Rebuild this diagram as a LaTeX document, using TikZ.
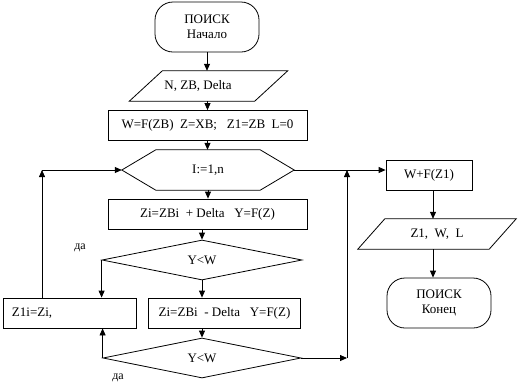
\documentclass[tikz,border=0pt]{standalone}
\usepackage{fontspec}
\setmainfont{Liberation Serif}
\usetikzlibrary{arrows.meta,shapes.geometric,calc}
\begin{document}
\begin{tikzpicture}[x=1pt,y=-1pt,
  every node/.style={font=\fontsize{13}{15}\selectfont},
  outl/.style={line width=0.8pt},
  arr/.style={line width=0.8pt,-{Triangle[length=7pt,width=6pt]}},
  proc/.style={draw,line width=0.8pt,rectangle,inner sep=0pt,minimum height=30pt},
  term/.style={draw,line width=0.8pt,rectangle,rounded corners=18pt,inner sep=0pt,minimum width=104pt,minimum height=50pt,align=center},
  io/.style={rectangle,inner sep=0pt,minimum height=30pt},
  cond/.style={draw,line width=0.8pt,diamond,aspect=5,inner sep=0pt,minimum width=200pt,minimum height=40pt},
  hexa/.style={rectangle,inner sep=0pt,minimum width=172pt,minimum height=40pt},
  lab/.style={font=\fontsize{12}{14}\selectfont}
]
\useasboundingbox (0,0) rectangle (521,389);

\node[term] (start) at (207,27) {ПОИСК\\Начало};
\node[io,minimum width=125pt] (in) at (198,86) {N, ZB, Delta};
\draw[outl] ($(in.north west)+(27,0)$) -- ($(in.north east)+(27,0)$) -- ($(in.south east)+(-6,0)$) -- ($(in.south west)+(-6,0)$) -- cycle;
\node[proc,minimum width=199pt] (init) at (207.5,125.5) {W=F(ZB)\ \ Z=XB;\ \ \ Z1=ZB\ \ L=0};
\node[hexa] (loop) at (208,170) {I:=1,n};
\draw[outl] (loop.west) -- ($(loop.north west)+(34,0)$) -- ($(loop.north east)+(-34,0)$) -- (loop.east) -- ($(loop.south east)+(-34,0)$) -- ($(loop.south west)+(34,0)$) -- cycle;
\node[proc,minimum width=199pt] (plus) at (207.5,214) {Zi=ZBi\ \ + Delta\ \ \ Y=F(Z)};
\node[cond] (c1) at (202,260) {Y<W};
\node[proc,minimum width=133pt,inner xsep=9pt,text width=115pt,align=left] (save) at (69.5,313) {\raisebox{2pt}{Z1i=Zi,}};
\node[proc,minimum width=152pt] (minus) at (224.5,313) {Zi=ZBi\ \ - Delta\ \ \ Y=F(Z)};
\node[cond,minimum width=198pt] (c2) at (202,358) {Y<W};
\node[proc,minimum width=86pt] (wf) at (429,175) {W+F(Z1)};
\node[io,minimum width=131pt] (out) at (437,234) {Z1,\ \ W,\ \ L};
\draw[outl] ($(out.north west)+(13.5,0)$) -- ($(out.north east)+(13.5,0)$) -- ($(out.south east)+(-13.5,0)$) -- ($(out.south west)+(-13.5,0)$) -- cycle;
\node[term] (end) at (439,303) {ПОИСК\\Конец};

\node[lab] (da1) at (80,248) {да};
\node[lab] (da2) at (118,378) {да};

\coordinate (lc) at (42,170);
\coordinate (rc) at (347,358);
\coordinate (rt) at (347,170);

\draw[arr] (start.south) -- (start.south |- in.north);
\draw[arr] (init.north |- in.south) -- (init.north);
\draw[arr] (init.south) -- (init.south |- loop.north);
\draw[arr] (loop.south) -- (loop.south |- plus.north);
\draw[arr] (plus.south -| c1.north) -- (c1.north);
\draw[arr] (c1.south) -- (c1.south |- minus.north);
\draw[arr] (c1.west) -- (c1.west |- save.north);
\draw[arr] (minus.south -| c2.north) -- (c2.north);
\draw[arr] (c2.west) -- (c2.west |- save.south);
\draw[arr] (save.north -| lc) -- (lc);
\draw[arr] (lc) -- (loop.west);
\draw[arr] (c2.east) -- (rc);
\draw[arr] (rc) -- (rt);
\draw[arr] (loop.east) -- (wf.west |- loop.east);
\draw[arr] ([xshift=4pt]wf.south) -- ([xshift=4pt]wf.south |- out.north);
\draw[arr] ([xshift=-4pt]out.south) -- ([xshift=-4pt]out.south |- end.north);
\end{tikzpicture}
\end{document}
